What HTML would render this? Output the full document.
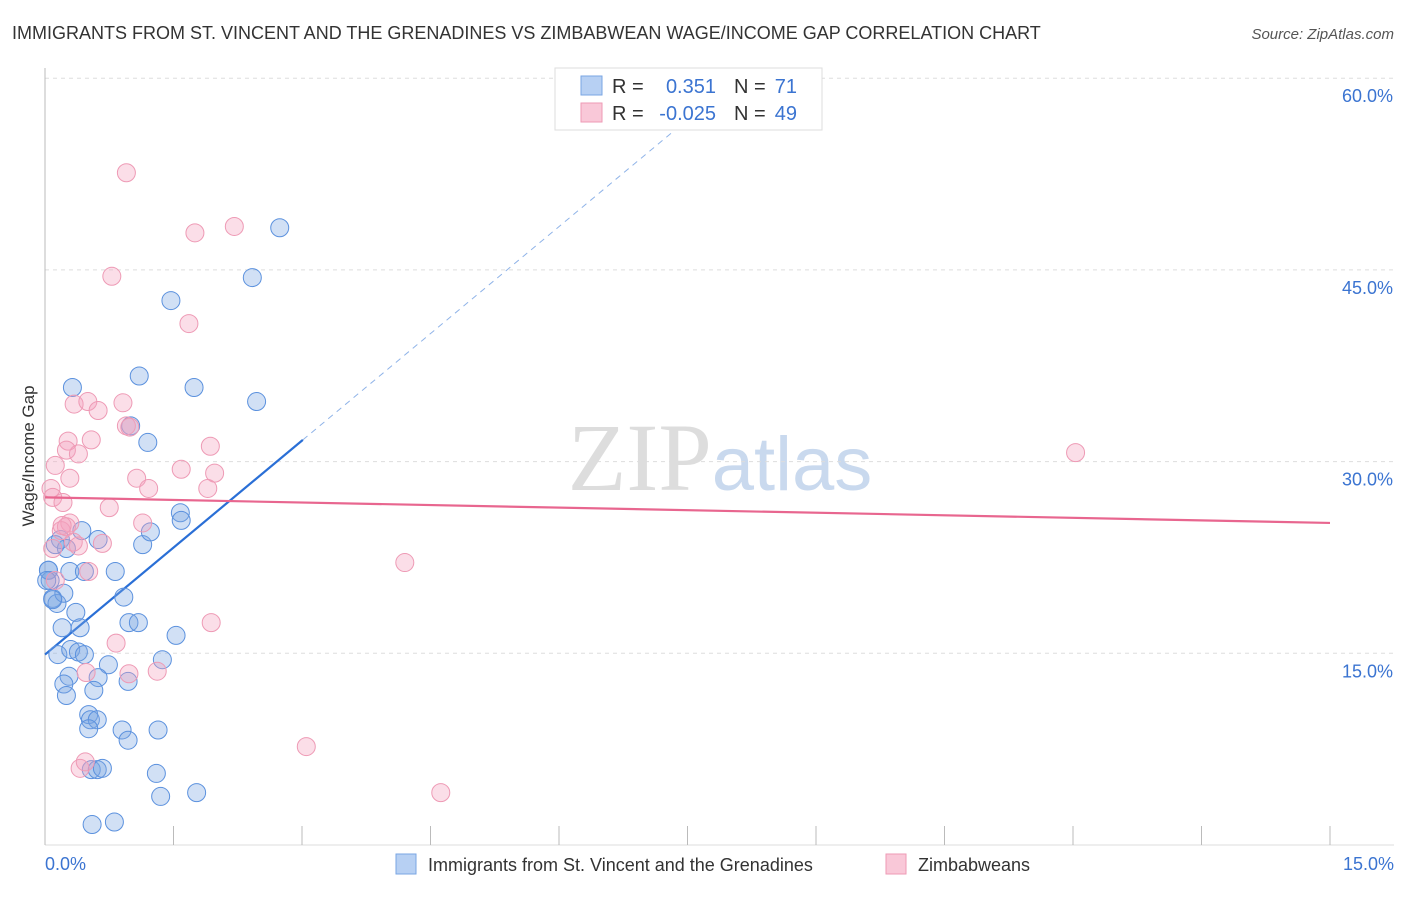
<!DOCTYPE html>
<html><head><meta charset="utf-8"><style>
body{margin:0;background:#fff;font-family:"Liberation Sans",sans-serif;}
svg text{font-family:"Liberation Sans",sans-serif;}
</style></head><body>
<svg id="chart" width="1406" height="892" xmlns="http://www.w3.org/2000/svg">
<text x="12" y="39" font-size="18" fill="#333">IMMIGRANTS FROM ST. VINCENT AND THE GRENADINES VS ZIMBABWEAN WAGE/INCOME GAP CORRELATION CHART</text>
<text x="1394" y="39" font-size="15" fill="#555" text-anchor="end" font-style="italic">Source: ZipAtlas.com</text>
<text x="720" y="490" font-size="96" text-anchor="middle"><tspan fill="#ddd" font-family="Liberation Serif">ZIP</tspan><tspan fill="#c9d9ee" font-size="76">atlas</tspan></text>
<text transform="translate(34,456) rotate(-90)" font-size="17" fill="#333" text-anchor="middle">Wage/Income Gap</text>
<g id="grid"></g><g id="axes"></g><g id="marks"></g>
<g>
<rect x="555" y="68" width="267" height="62" fill="#fff" stroke="#ddd"/>
<rect x="581" y="76" width="21" height="19" fill="#b7d0f3" stroke="#7aa6e3"/>
<rect x="581" y="103" width="21" height="19" fill="#f9c8d8" stroke="#ee9ab5"/>
<text x="612" y="93" font-size="20" fill="#333">R =</text>
<text x="716" y="93" font-size="20" fill="#3b74d1" text-anchor="end">0.351</text>
<text x="734" y="93" font-size="20" fill="#333">N =</text>
<text x="797" y="93" font-size="20" fill="#3b74d1" text-anchor="end">71</text>
<text x="612" y="120" font-size="20" fill="#333">R =</text>
<text x="716" y="120" font-size="20" fill="#3b74d1" text-anchor="end">-0.025</text>
<text x="734" y="120" font-size="20" fill="#333">N =</text>
<text x="797" y="120" font-size="20" fill="#3b74d1" text-anchor="end">49</text>
</g>
<g>
<rect x="396" y="854" width="20" height="20" fill="#b7d0f3" stroke="#7aa6e3"/>
<text x="428" y="871" font-size="18" fill="#333">Immigrants from St. Vincent and the Grenadines</text>
<rect x="886" y="854" width="20" height="20" fill="#f9c8d8" stroke="#ee9ab5"/>
<text x="918" y="871" font-size="18" fill="#333">Zimbabweans</text>
</g>
</svg>
<script>
const yTicks=[15,30,45,60];
const yTickLabels=["15.0%","30.0%","45.0%","60.0%"];
const xTickLabels=["0.0%","15.0%"];
const blueX=[0.32,1.10,1.74,2.47,1.47,2.42,2.74,1.00,1.20,1.58,1.59,1.14,1.23,0.43,0.18,0.62,0.25,0.12,0.04,0.06,0.09,0.14,0.22,0.29,0.46,0.82,0.92,0.36,0.41,0.20,0.15,0.30,0.39,0.46,0.74,0.62,0.28,0.22,0.25,0.57,0.97,0.98,1.09,1.53,1.37,0.51,0.53,0.61,0.51,0.90,0.97,1.32,1.30,1.35,1.77,0.54,0.61,0.67,0.55,0.81,0.04,0.02,0.09];
const blueY=[35.8,36.7,35.8,34.7,42.6,44.4,48.3,32.8,31.5,26.0,25.4,23.5,24.5,24.6,23.9,23.9,23.2,23.5,21.5,20.7,19.3,18.9,19.7,21.4,21.4,21.4,19.4,18.2,17.0,17.0,14.9,15.3,15.1,14.9,14.1,13.1,13.2,12.6,11.7,12.1,12.8,17.4,17.4,16.4,14.5,10.2,9.8,9.8,9.1,9.0,8.2,9.0,5.6,3.8,4.1,5.9,5.9,6.0,1.6,1.8,21.5,20.7,19.2];
const pinkX=[0.95,1.75,2.21,0.78,1.68,0.34,0.50,0.62,0.91,0.95,0.99,0.27,0.25,0.39,0.54,0.12,0.29,0.07,0.09,0.21,0.75,1.07,1.21,1.59,1.98,1.93,1.90,1.14,0.29,0.19,0.25,0.33,0.39,0.67,0.09,0.12,0.51,0.83,0.48,0.98,1.94,1.31,4.20,12.03,3.05,4.62,0.41,0.47,0.20];
const pinkY=[52.6,47.9,48.4,44.5,40.8,34.5,34.7,34.0,34.6,32.8,32.7,31.6,30.9,30.6,31.7,29.7,28.7,27.9,27.2,26.8,26.4,28.7,27.9,29.4,29.1,31.2,27.9,25.2,25.2,24.6,24.9,23.7,23.4,23.6,23.2,20.7,21.4,15.8,13.5,13.4,17.4,13.6,22.1,30.7,7.7,4.1,6.0,6.5,25.0];
const blueTrend=[14.9,31.7,3.01];
const pinkTrend=[27.2,25.2];
const NS="http://www.w3.org/2000/svg";
const sx=v=>45+v*(1285/15);
const sy=v=>845-v*12.78;
function mk(tag,attrs,parent){const e=document.createElementNS(NS,tag);for(const k in attrs)e.setAttribute(k,attrs[k]);parent.appendChild(e);return e;}
const grid=document.getElementById('grid'),axes=document.getElementById('axes'),marks=document.getElementById('marks');
yTicks.forEach((t,i)=>{
 const l=mk('line',{x1:45,x2:1394,y1:sy(t),y2:sy(t),stroke:'#ddd','stroke-dasharray':'4,4'},grid);
 
 
 const tx=mk('text',{x:1393,y:sy(t)+24,'font-size':18,fill:'#3b74d1','text-anchor':'end'},axes);
 tx.textContent=yTickLabels[i];
 
 
});
const ya=mk('line',{x1:45,x2:45,y1:68,y2:845,stroke:'#bbb'},axes);


const xa=mk('line',{x1:45,x2:1394,y1:845,y2:845,stroke:'#ddd'},axes);


for(let i=0;i<=15;i+=1.5){
 const t=mk('line',{x1:sx(i),x2:sx(i),y1:826,y2:845,stroke:'#bbb'},axes);
 
 
}
[[0,'start',45],[15,'end',1394]].forEach((d,i)=>{
 const tx=mk('text',{x:d[2],y:870,'font-size':18,fill:'#3b74d1','text-anchor':d[1]},axes);
 tx.textContent=xTickLabels[i];
 
 
});
// trend lines
const slope=(blueTrend[1]-blueTrend[0])/blueTrend[2];
const bl=mk('line',{x1:sx(0),y1:sy(blueTrend[0]),x2:sx(blueTrend[2]),y2:sy(blueTrend[1]),stroke:'#2a6fd6','stroke-width':2.2},marks);


const xe=(60-blueTrend[0])/slope;
const bd=mk('line',{x1:sx(blueTrend[2]),y1:sy(blueTrend[1]),x2:sx(xe),y2:sy(60),stroke:'#8fb3e8','stroke-width':1,'stroke-dasharray':'6,5'},marks);


blueX.forEach((x,i)=>{
 const c=mk('circle',{cx:sx(x),cy:sy(blueY[i]),r:9,fill:'rgba(122,166,227,0.35)',stroke:'#5b91de','stroke-width':1},marks);
 
 
});
pinkX.forEach((x,i)=>{
 const c=mk('circle',{cx:sx(x),cy:sy(pinkY[i]),r:9,fill:'rgba(244,160,190,0.35)',stroke:'#ee9ab5','stroke-width':1},marks);
 
 
});
const pl=mk('line',{x1:sx(0),y1:sy(pinkTrend[0]),x2:sx(15),y2:sy(pinkTrend[1]),stroke:'#e8668f','stroke-width':2.2},marks);


</script>
</body></html>
